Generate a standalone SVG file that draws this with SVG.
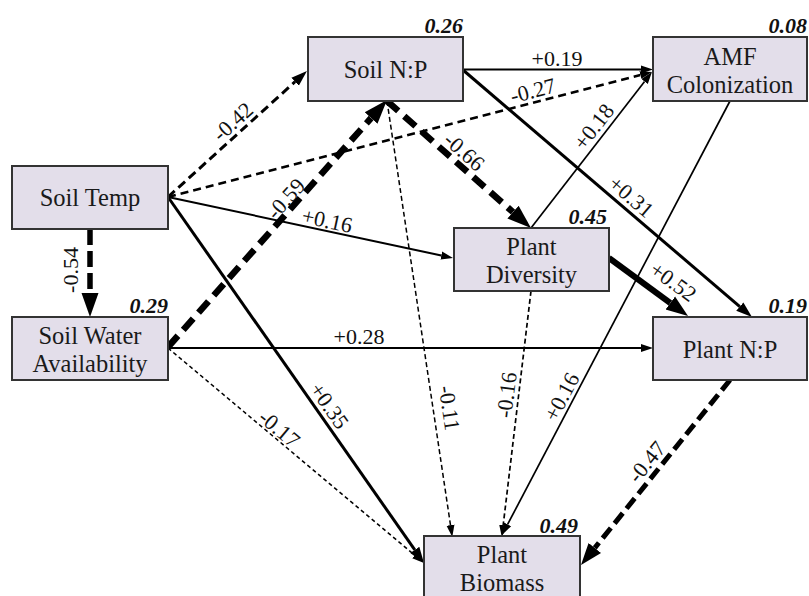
<svg xmlns="http://www.w3.org/2000/svg" width="809" height="596" viewBox="0 0 809 596">
<style>
.box{fill:#E3DEEA;stroke:#333;stroke-width:2}
.t{font-size:24.5px;fill:#1a1a1a;text-anchor:middle}
.r2{font-size:22px;font-weight:bold;font-style:italic;fill:#111;text-anchor:end}
.lb{font-size:22px;fill:#111;text-anchor:middle}
.c{fill:none;stroke:#000}
</style>
<defs>
<marker id="aS" markerUnits="userSpaceOnUse" markerWidth="14" markerHeight="10" viewBox="0 -5 14 10" refX="0" refY="0" orient="auto"><path d="M0,-4 L12,0 L0,4 Z" fill="#000"/></marker>
<marker id="aM" markerUnits="userSpaceOnUse" markerWidth="18" markerHeight="14" viewBox="0 -7 18 14" refX="0" refY="0" orient="auto"><path d="M0,-5.5 L16,0 L0,5.5 Z" fill="#000"/></marker>
<marker id="aL" markerUnits="userSpaceOnUse" markerWidth="26" markerHeight="20" viewBox="0 -10 26 20" refX="0" refY="0" orient="auto"><path d="M0,-8.5 L24,0 L0,8.5 Z" fill="#000"/></marker>
<marker id="aL2" markerUnits="userSpaceOnUse" markerWidth="24" markerHeight="20" viewBox="0 -10 24 20" refX="0" refY="0" orient="auto"><path d="M0,-8 L22,0 L0,8 Z" fill="#000"/></marker>
</defs>
<g font-family="'Liberation Serif', 'DejaVu Serif', serif">
<g id="connectors">
<line class="c" x1="168" y1="197" x2="295.1" y2="81.7" stroke-width="3" stroke-dasharray="9,5" marker-end="url(#aM)"/>
<line class="c" x1="168" y1="197" x2="640.4" y2="75" stroke-width="2.5" stroke-dasharray="8,5" marker-end="url(#aS)"/>
<line class="c" x1="90" y1="229" x2="90" y2="293" stroke-width="5.5" stroke-dasharray="16,6" marker-end="url(#aL)"/>
<line class="c" x1="168" y1="197" x2="441.3" y2="255.5" stroke-width="2" marker-end="url(#aS)"/>
<line class="c" x1="168" y1="197" x2="414.8" y2="549.9" stroke-width="3" marker-end="url(#aM)"/>
<line class="c" x1="168" y1="347" x2="371.1" y2="118" stroke-width="6.5" stroke-dasharray="15,8" marker-end="url(#aL)"/>
<line class="c" x1="168" y1="348" x2="641" y2="348" stroke-width="2" marker-end="url(#aS)"/>
<line class="c" x1="168" y1="348" x2="414.8" y2="555.3" stroke-width="1.5" stroke-dasharray="4,3" marker-end="url(#aS)"/>
<line class="c" x1="387" y1="101" x2="513" y2="212.1" stroke-width="6.5" stroke-dasharray="15,8" marker-end="url(#aL)"/>
<line class="c" x1="387" y1="101" x2="450.5" y2="525.1" stroke-width="1.5" stroke-dasharray="5,3" marker-end="url(#aS)"/>
<line class="c" x1="463" y1="69.5" x2="641" y2="69.5" stroke-width="2" marker-end="url(#aS)"/>
<line class="c" x1="463" y1="70" x2="739.8" y2="306.6" stroke-width="3" marker-end="url(#aM)"/>
<line class="c" x1="531" y1="228" x2="644.6" y2="81.5" stroke-width="1.7" marker-end="url(#aS)"/>
<line class="c" x1="609" y1="258" x2="670.3" y2="303" stroke-width="6" marker-end="url(#aL2)"/>
<line class="c" x1="531" y1="291" x2="503.2" y2="525.1" stroke-width="1.7" stroke-dasharray="5,3" marker-end="url(#aS)"/>
<line class="c" x1="730" y1="101" x2="507.6" y2="524.4" stroke-width="1.7" marker-end="url(#aS)"/>
<line class="c" x1="730" y1="380" x2="594.8" y2="547.9" stroke-width="5" stroke-dasharray="13,6" marker-end="url(#aL2)"/>
<g id="connector-labels">
<text class="lb" transform="translate(233,122) rotate(-42.2)" y="7">-0.42</text>
<text class="lb" transform="translate(533,91) rotate(-14.5)" y="7">-0.27</text>
<text class="lb" transform="translate(557,59)" y="7">+0.19</text>
<text class="lb" transform="translate(71,270) rotate(-90)" y="7">-0.54</text>
<text class="lb" transform="translate(327,221) rotate(12.1)" y="7">+0.16</text>
<text class="lb" transform="translate(286,199) rotate(-48.4)" y="7">-0.59</text>
<text class="lb" transform="translate(329,406) rotate(55)" y="7">+0.35</text>
<text class="lb" transform="translate(279,429) rotate(40)" y="7">-0.17</text>
<text class="lb" transform="translate(359,337)" y="7">+0.28</text>
<text class="lb" transform="translate(464,152) rotate(41.4)" y="7">-0.66</text>
<text class="lb" transform="translate(449,408) rotate(81.5)" y="7">-0.11</text>
<text class="lb" transform="translate(631,197) rotate(40.5)" y="7">+0.31</text>
<text class="lb" transform="translate(594,127) rotate(-52.2)" y="7">+0.18</text>
<text class="lb" transform="translate(673,282) rotate(35.8)" y="7">+0.52</text>
<text class="lb" transform="translate(507,395) rotate(-83)" y="7">-0.16</text>
<text class="lb" transform="translate(562,397) rotate(-62.3)" y="7">+0.16</text>
<text class="lb" transform="translate(647,462) rotate(-51)" y="7">-0.47</text>
</g>
</g>
<g id="soil-temp">
<rect class="box" x="12" y="166" width="156" height="63"/>
<text class="t" x="90" y="206">Soil Temp</text>
</g>
<g id="soil-np">
<rect class="box" x="308" y="37" width="155" height="64"/>
<text class="t" x="385.5" y="78">Soil N:P</text>
<text class="r2" x="463" y="33">0.26</text>
</g>
<g id="amf">
<rect class="box" x="653" y="37" width="154" height="64"/>
<text class="t" x="730" y="65">AMF</text>
<text class="t" x="730" y="93">Colonization</text>
<text class="r2" x="807" y="33">0.08</text>
</g>
<g id="plant-diversity">
<rect class="box" x="454" y="228" width="155" height="63"/>
<text class="t" x="531.5" y="255">Plant</text>
<text class="t" x="531.5" y="283">Diversity</text>
<text class="r2" x="607" y="224">0.45</text>
</g>
<g id="soil-water">
<rect class="box" x="12" y="317" width="156" height="63"/>
<text class="t" x="90" y="344">Soil Water</text>
<text class="t" x="90" y="372">Availability</text>
<text class="r2" x="168" y="313">0.29</text>
</g>
<g id="plant-np">
<rect class="box" x="653" y="317" width="154" height="63"/>
<text class="t" x="730" y="358">Plant N:P</text>
<text class="r2" x="807" y="313">0.19</text>
</g>
<g id="plant-biomass">
<rect class="box" x="424" y="536" width="156" height="64"/>
<text class="t" x="502" y="563">Plant</text>
<text class="t" x="502" y="591">Biomass</text>
<text class="r2" x="578" y="533">0.49</text>
</g>
</g>
</svg>
